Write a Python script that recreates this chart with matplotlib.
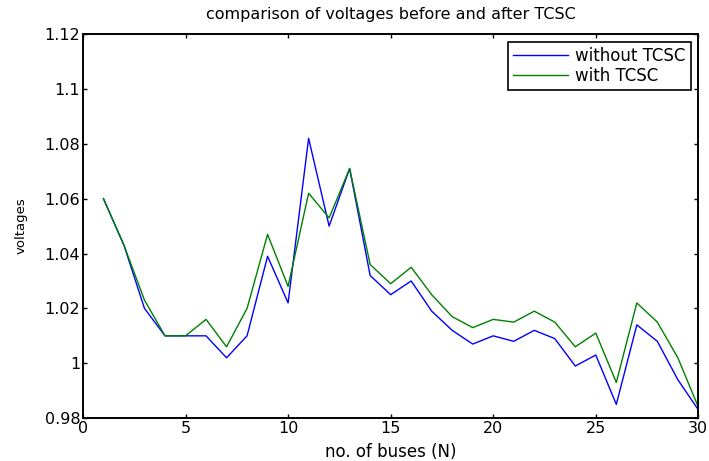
import numpy as np
import matplotlib
matplotlib.use("Agg")
import matplotlib.pyplot as plt
from matplotlib.ticker import FuncFormatter

# bus voltages
buses = list(range(1, 31))
without_tcsc = [1.060, 1.043, 1.020, 1.010, 1.010, 1.010, 1.002, 1.010, 1.039, 1.022,
                1.082, 1.050, 1.071, 1.032, 1.025, 1.030, 1.019, 1.012, 1.007, 1.010,
                1.008, 1.012, 1.009, 0.999, 1.003, 0.985, 1.014, 1.008, 0.994, 0.983]
with_tcsc = [1.060, 1.043, 1.023, 1.010, 1.010, 1.016, 1.006, 1.020, 1.047, 1.028,
             1.062, 1.053, 1.071, 1.036, 1.029, 1.035, 1.025, 1.017, 1.013, 1.016,
             1.015, 1.019, 1.015, 1.006, 1.011, 0.993, 1.022, 1.015, 1.002, 0.984]

plt.rcParams['font.family'] = ['DejaVu Sans']

fig = plt.figure(figsize=(7.09, 4.61), dpi=100)
ax = fig.add_axes([0.117, 0.093, 0.868, 0.833])

ax.plot(buses, without_tcsc, color='#0000ff', lw=1.0, label='without TCSC')
ax.plot(buses, with_tcsc, color='#008000', lw=1.0, label='with TCSC')

ax.set_xlim(0, 30)
ax.set_ylim(0.98, 1.12)
ax.set_xticks([0, 5, 10, 15, 20, 25, 30])
ax.set_yticks(np.arange(0.98, 1.121, 0.02))
ax.yaxis.set_major_formatter(FuncFormatter(lambda v, p: '%g' % round(v, 2)))
ax.tick_params(direction='in', top=True, right=True, labelsize=11.5, length=3, width=1, pad=2)
for s in ax.spines.values():
    s.set_linewidth(1.4)

ax.set_title('comparison of voltages before and after TCSC', fontsize=11.5, pad=11)
ax.set_xlabel('no. of buses (N)', fontsize=12, labelpad=5)
ax.set_ylabel('voltages', fontsize=9.5, labelpad=12)

leg = ax.legend(loc='upper right', fontsize=12, fancybox=False, edgecolor='black',
                framealpha=1, borderaxespad=0.45, handlelength=3.3, handletextpad=0.45,
                labelspacing=0.15, borderpad=0.3)
leg.get_frame().set_linewidth(1.2)

fig.savefig('out.png', dpi=100)
